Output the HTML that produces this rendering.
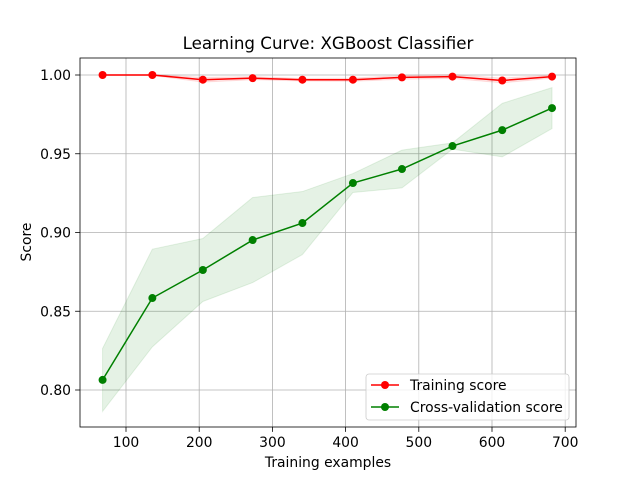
<!DOCTYPE html>
<html><head><meta charset="utf-8"><style>
body{margin:0;background:#fff}
svg text{font-family:"DejaVu Sans","Liberation Sans",sans-serif;fill:#000}
</style></head><body>
<svg id="chart" width="640" height="480" style="position:absolute;left:0;top:0"></svg>
<script>
const trainSizes=[68,136,205,273,341,410,477,546,614,682];
const trainMean=[1.0,1.0,0.997,0.998,0.997,0.997,0.9985,0.999,0.9965,0.999];
const trainStd=[0.0003,0.0003,0.0015,0.001,0.0008,0.001,0.0012,0.0012,0.0015,0.001];
const cvMean=[0.8064,0.8584,0.8762,0.8952,0.906,0.9314,0.9403,0.9549,0.965,0.979];
const cvStd=[0.02,0.031,0.02,0.027,0.02,0.006,0.012,0.002,0.017,0.013];
const xTicks=[100,200,300,400,500,600,700];
const yTicks=[0.80,0.85,0.90,0.95,1.00];
const NS="http://www.w3.org/2000/svg";
const svg=document.getElementById('chart');
const L=80,R=576,T=58,B=427;
const sx=v=>52.8+v*0.732;
const sy=v=>75+(1-v)*1575;
function mk(t,a,p){const e=document.createElementNS(NS,t);for(const k in a)e.setAttribute(k,a[k]);(p||svg).appendChild(e);return e;}
xTicks.forEach(v=>{const g=mk('line',{x1:sx(v),x2:sx(v),y1:T,y2:B,stroke:'#b0b0b0','stroke-width':0.8});


const tk=mk('line',{x1:sx(v),x2:sx(v),y1:B,y2:B+4.9,stroke:'#000','stroke-width':0.8});


const t=mk('text',{x:sx(v),y:B+20,'text-anchor':'middle','font-size':13.9});t.textContent=v;

});
yTicks.forEach(v=>{const g=mk('line',{x1:L,x2:R,y1:sy(v),y2:sy(v),stroke:'#b0b0b0','stroke-width':0.8});


const tk=mk('line',{x1:L-4.9,x2:L,y1:sy(v),y2:sy(v),stroke:'#000','stroke-width':0.8});


const t=mk('text',{x:L-9,y:sy(v)+5,'text-anchor':'end','font-size':13.9});t.textContent=v.toFixed(2);

});
function band(m,s,c,name){let up=trainSizes.map((x,i)=>sx(x)+','+sy(m[i]+s[i]));let lo=trainSizes.map((x,i)=>sx(x)+','+sy(m[i]-s[i])).reverse();
const p=mk('polygon',{points:up.concat(lo).join(' '),fill:c,'fill-opacity':0.1,stroke:c,'stroke-opacity':0.1});

}
band(trainMean,trainStd,'red','training-band');
band(cvMean,cvStd,'green','cv-band');
function series(m,c,name){const l=mk('polyline',{points:trainSizes.map((x,i)=>sx(x)+','+sy(m[i])).join(' '),fill:'none',stroke:c,'stroke-width':1.5});


trainSizes.forEach((x,i)=>{const d=mk('circle',{cx:sx(x),cy:sy(m[i]),r:4,fill:c});

});}
series(trainMean,'red','training');
series(cvMean,'green','cv');
const fr=mk('rect',{x:L,y:T,width:R-L,height:B-T,fill:'none',stroke:'#000','stroke-width':0.8});


</script>
<svg width="640" height="480" style="position:absolute;left:0;top:0">
<text x="328" y="49" text-anchor="middle" font-size="16.7">Learning Curve: XGBoost Classifier</text>
<text x="328" y="467" text-anchor="middle" font-size="13.9">Training examples</text>
<text x="31" y="242" text-anchor="middle" font-size="13.9" transform="rotate(-90 31 242)">Score</text>
<g>
<rect x="366" y="374" width="203" height="46" rx="3" fill="#fff" fill-opacity="0.8" stroke="#ccc" stroke-width="0.8"/>
<line x1="371" x2="399" y1="385" y2="385" stroke="red" stroke-width="1.5"/><circle cx="385" cy="385" r="4" fill="red"/>
<text x="410" y="390" font-size="13.9">Training score</text>
<line x1="371" x2="399" y1="407" y2="407" stroke="green" stroke-width="1.5"/><circle cx="385" cy="407" r="4" fill="green"/>
<text x="410" y="412" font-size="13.9">Cross-validation score</text>
</g>
</svg>
</body></html>
